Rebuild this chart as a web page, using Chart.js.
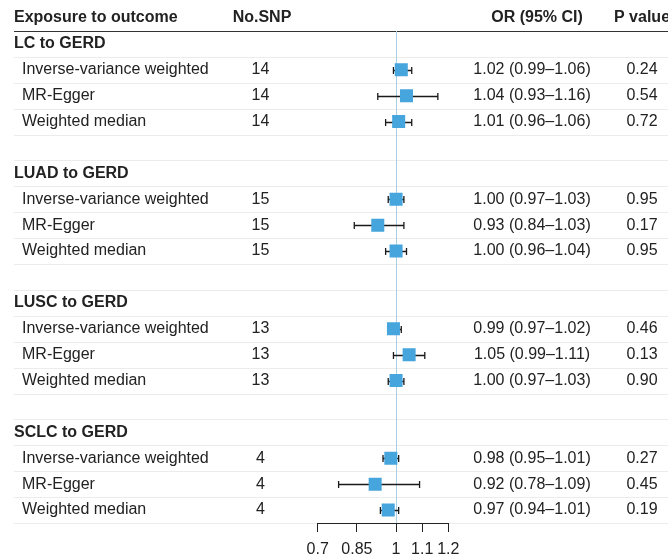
<!DOCTYPE html>
<html>
<head>
<meta charset="utf-8">
<script src="https://cdn.jsdelivr.net/npm/chart.js@4.4.1/dist/chart.umd.min.js"></script>
<style>
  html, body { margin: 0; padding: 0; background: #fff; }
  #wrap { width: 668px; height: 556px; }
</style>
</head>
<body>
<div id="wrap"><canvas id="myChart" width="668" height="556"></canvas></div>
<script>
// data
var groups = ['LC to GERD', 'LUAD to GERD', 'LUSC to GERD', 'SCLC to GERD'];
var methods = ['Inverse-variance weighted', 'MR-Egger', 'Weighted median'];
var snps = [14, 14, 14, 15, 15, 15, 13, 13, 13, 4, 4, 4];
var orValues = [1.02, 1.04, 1.01, 1.00, 0.93, 1.00, 0.99, 1.05, 1.00, 0.98, 0.92, 0.97];
var ciLower = [0.99, 0.93, 0.96, 0.97, 0.84, 0.96, 0.97, 0.99, 0.97, 0.95, 0.78, 0.94];
var ciUpper = [1.06, 1.16, 1.06, 1.03, 1.03, 1.04, 1.02, 1.11, 1.03, 1.01, 1.09, 1.01];
var pValues = ['0.24', '0.54', '0.72', '0.95', '0.17', '0.95', '0.46', '0.13', '0.90', '0.27', '0.45', '0.19'];
var xTicks = [0.7, 0.85, 1, 1.1, 1.2];

var FONT = '"Liberation Sans", Arial, Helvetica, sans-serif';
var TEXT = '#222';

// row 0 = header, each group takes a title row, 3 method rows and a blank row
function rowOf(i) {
    var g = Math.floor(i / 3);
    return g * 5 + 2 + (i % 3);
}

var points = orValues.map(function (v, i) { return { x: v, y: rowOf(i) }; });

function fmt(v) { return v.toFixed(2); }

var forestPlugin = {
    id: 'forest',
    beforeDraw: function (chart) {
        var c = chart.ctx, xs = chart.scales.x, ys = chart.scales.y;
        c.save();
        // row separators
        for (var r = 0; r < 20; r++) {
            var y = Math.round(ys.getPixelForValue(r + 0.5)) + 0.5;
            c.beginPath();
            c.strokeStyle = r === 0 ? '#333' : '#ececec';
            c.lineWidth = 1;
            c.moveTo(14, y);
            c.lineTo(668, y);
            c.stroke();
        }
        // reference line at OR = 1
        var x1 = Math.round(xs.getPixelForValue(1)) + 0.5;
        c.beginPath();
        c.strokeStyle = '#a9cfe3';
        c.moveTo(x1, ys.getPixelForValue(0.5));
        c.lineTo(x1, ys.getPixelForValue(19.5));
        c.stroke();
        c.restore();
    },
    beforeDatasetsDraw: function (chart) {
        var c = chart.ctx, xs = chart.scales.x, ys = chart.scales.y;
        c.save();
        // axis line
        var ay = Math.round(xs.top) + 0.5;
        c.beginPath();
        c.strokeStyle = '#222';
        c.lineWidth = 1;
        c.moveTo(xs.left, ay);
        c.lineTo(xs.right + 0.5, ay);
        c.stroke();
        // confidence intervals
        c.strokeStyle = '#1a1a1a';
        c.lineWidth = 1.3;
        for (var i = 0; i < orValues.length; i++) {
            var yy = Math.round(ys.getPixelForValue(rowOf(i))) + 0.5;
            var a = xs.getPixelForValue(ciLower[i]);
            var b = xs.getPixelForValue(ciUpper[i]);
            c.beginPath();
            c.moveTo(a, yy); c.lineTo(b, yy);
            c.moveTo(a, yy - 3.5); c.lineTo(a, yy + 3.5);
            c.moveTo(b, yy - 3.5); c.lineTo(b, yy + 3.5);
            c.stroke();
        }
        c.restore();
    },
    afterDraw: function (chart) {
        var c = chart.ctx, ys = chart.scales.y;
        c.save();
        c.fillStyle = TEXT;
        c.textBaseline = 'middle';
        var hy = ys.getPixelForValue(0);
        c.font = 'bold 16px ' + FONT;
        c.textAlign = 'left';
        c.fillText('Exposure to outcome', 14, hy);
        c.textAlign = 'center';
        c.fillText('No.SNP', 262, hy);
        c.fillText('OR (95% CI)', 537, hy);
        c.textAlign = 'left';
        c.fillText('P value', 614, hy);

        groups.forEach(function (g, gi) {
            c.font = 'bold 16px ' + FONT;
            c.textAlign = 'left';
            c.fillText(g, 14, ys.getPixelForValue(gi * 5 + 1));
        });
        c.font = '16px ' + FONT;
        for (var i = 0; i < orValues.length; i++) {
            var y = ys.getPixelForValue(rowOf(i));
            c.textAlign = 'left';
            c.fillText(methods[i % 3], 22, y);
            c.textAlign = 'center';
            c.fillText(String(snps[i]), 260.5, y);
            c.fillText(fmt(orValues[i]) + ' (' + fmt(ciLower[i]) + '\u2013' + fmt(ciUpper[i]) + ')', 532, y);
            c.fillText(pValues[i], 642, y);
        }
        c.restore();
    }
};

var ctx = document.getElementById('myChart').getContext('2d');
var myChart = new Chart(ctx, {
    type: 'scatter',
    data: {
        datasets: [{
            data: points,
            pointStyle: 'rect',
            pointRadius: 9.2,
            pointHoverRadius: 9.2,
            backgroundColor: '#45a5dc',
            borderWidth: 0
        }]
    },
    options: {
        responsive: false,
        animation: false,
        devicePixelRatio: 1,
        layout: { autoPadding: false, padding: { left: 317.7, right: 219.7, top: 5.05, bottom: 0 } },
        plugins: { legend: { display: false }, tooltip: { enabled: false } },
        scales: {
            x: {
                type: 'linear',
                min: 0.7,
                max: 1.2,
                afterBuildTicks: function (scale) {
                    scale.ticks = xTicks.map(function (v) { return { value: v }; });
                },
                afterFit: function (scale) { scale.height = 33; },
                border: { display: true, color: '#222', width: 1 },
                grid: { drawOnChartArea: false, drawTicks: true, tickLength: 9, color: '#222' },
                ticks: {
                    autoSkip: false,
                    maxRotation: 0,
                    padding: 8,
                    color: TEXT,
                    font: { family: FONT, size: 16 },
                    callback: function (v) { return String(v); }
                }
            },
            y: {
                type: 'linear',
                display: false,
                reverse: true,
                min: -0.5,
                max: 19.5
            }
        }
    },
    plugins: [forestPlugin]
});
</script>
</body>
</html>
